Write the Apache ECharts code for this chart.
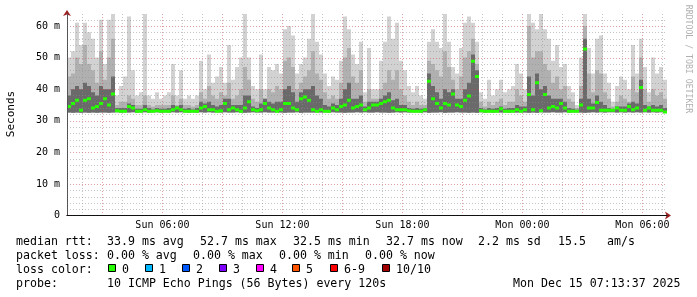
<!DOCTYPE html>
<html><head><meta charset="utf-8">
<script src="https://cdn.jsdelivr.net/npm/echarts@6/dist/echarts.min.js"></script>
<style>html,body{margin:0;padding:0;background:#fff}#c{width:697px;height:297px}</style>
</head><body><div id="c"></div>
<script>
// time axis: hours since Sun 00:00; graph spans Sun 01:13:37 .. Mon 07:13:37
const T0 = 1.2269;
const T1 = 31.2269;
const STEP = 0.2; // hours per smoke column (12 min)

// smoke: top of lightest band (max ping), medium band, dark band, floor (min ping)
const maxRtt = [
50,52,61,54,61,58,56,50,62,48,62,64,
38,41,44,63,46,38,39,64,38,37,39,37,
38,39,48,38,46,37,38,37,38,49,40,51,
42,44,47,42,54,43,47,50,64,50,41,40,
51,40,47,46,48,45,59,60,57,45,48,50,
56,64,55,51,45,41,44,43,49,63,59,51,
48,55,39,53,40,40,49,55,63,56,61,49,
46,41,39,41,38,37,55,59,55,53,64,55,
47,45,53,61,63,61,55,39,37,43,38,40,
43,39,40,41,48,45,40,64,61,59,64,59,
56,49,54,47,48,41,39,35,50,64,53,45,
56,57,45,42,36,41,44,43,40,54,45,56,
47,39,50,45,47,43];
const midRtt = [
44,45,50,48,54,48,46,42,52,43,50,56,
35,36,36,38,37,35,35,38,35,34.5,35,35,
35,35,38,35,37,35,35,34.5,35,39,37,41,
38,37,39,38,42,37,38,40,47,43,37,36,
40,37,40,39,41,40,49,50,47,40,42,44,
46,52,45,43,39,37,38,37,42,50,53,44,
42,46,36,40,37,37,40,42,46,43,46,40,
38,36,35,36,35,35,49,48,46,44,52,47,
43,40,44,50,52,56,48,36,34.5,36,35,36,
37,35,36,36,40,38,36,60,50,52,52,48,
46,42,44,40,41,37,36,34,41,60,45,39,
46,45,39,37,34.5,36,38,37,36,44,39,50,
40,36,40,38,39,37];
const darkRtt = [
38,40,41,40,42,41,39,38,41,40,40,44,
34,34,34,35.5,35,33.8,33.8,35,34,33.6,34,33.8,
33.8,34,35,34.5,35,33.8,34,33.6,34,36,35.5,36,
35,34.5,35,37,37,35,35,35,38,38,34.5,34,
35.5,37,36,35.5,36,36,40,41,39,36,39,40,
40,41,38,37,35,34.5,35.5,35,37,40,42,37,
37,38,34.5,36,36,36,37,38,39,36.5,37,35,
35,34,33.8,34,33.8,34,45,41,39,37,40,39,
40,37,37,40,42,51,46,34,33.6,34,33.8,34,
34.5,33.8,34,34,35,34.5,34.5,44,38,45,40,41,
38,37,37,37,36,34,33.8,33.5,37,56,37,35.5,
38,36,35,34,33.6,34.5,34.5,34.5,35.5,36,35.5,43,
35,34.5,35,34.5,35,34];
const minRtt = [
32.6,32.5,32.6,32.5,32.6,32.5,32.6,32.5,32.6,32.6,32.5,32.6,
32.7,32.6,32.7,32.6,32.7,32.6,32.7,32.7,32.6,32.7,32.7,32.6,
32.7,32.6,32.7,32.6,32.7,32.7,32.6,32.7,32.6,32.7,32.6,32.7,
32.6,32.7,32.6,32.7,32.6,32.6,32.7,32.6,32.5,32.6,32.7,32.6,
32.6,32.7,32.6,32.6,32.7,32.6,32.5,32.6,32.6,32.7,32.5,32.6,
32.6,32.6,32.7,32.6,32.7,32.6,32.7,32.6,32.6,32.5,32.6,32.6,
32.7,32.6,32.7,32.6,32.6,32.7,32.6,32.6,32.5,32.6,32.7,32.6,
32.7,32.6,32.7,32.7,32.6,32.7,32.5,32.6,32.6,32.7,32.5,32.6,
32.6,32.7,32.6,32.6,32.5,32.6,32.5,32.7,32.6,32.7,32.6,32.7,
32.6,32.7,32.6,32.7,32.6,32.7,32.6,32.5,32.6,32.5,32.7,32.6,
32.6,32.7,32.6,32.6,32.7,32.6,32.7,32.7,32.6,32.5,32.6,32.7,
32.6,32.7,32.6,32.7,32.7,32.6,32.7,32.6,32.7,32.6,32.7,32.6,
32.7,32.6,32.7,32.6,32.7,32.6];
// median rtt (ms), 0 % loss throughout
const medRtt = [
34.5,35.5,36.5,33.3,36.5,37,34,34.5,35.5,37,35,38.5,
33.2,33,33,34.5,34,33,33,33.5,33,33,33.2,33,
33,33,33.5,34,33.5,33,33,33,33,34,34.5,33.5,
33.5,33,33.2,35.5,33.5,34,33.5,33,34,36,33.5,33.2,
33.5,35.5,34,33.5,33,33.5,35.5,35.5,34,33.5,37,37.5,
36.5,33.5,33,33.5,33,33,34,33.5,34.5,35,36.5,34,
34.5,35,33.5,34,35,35,35.5,36,36.5,34,33.5,33.5,
33.5,33.2,33,33,33,33.5,42.5,37,35.5,34,35.5,35,
38.5,35,34.5,36.5,37.8,48.8,44,33.2,33,33,33,33,
33.8,33,33,33,33.5,33,33.5,38.3,33.5,42,33.2,38.3,
34,34.5,34,35.5,34,33,33,33,35,52.7,34,34,
35.8,33.3,33.3,33.3,33.3,34,33.3,33.3,34.5,33.5,34,40.5,
33.3,34,33.3,33.3,33.3,32.8];

// grid / tick values
const hourMinor = [2,4,5,7,8,10,11,13,14,16,17,19,20,22,23,25,26,28,29,31];
const hourMajor = [3,6,9,12,15,18,21,24,27,30];
const labelHours = [6,12,18,24,30];
const msMinor = [2,4,6,8,12,14,16,18,22,24,26,28,32,34,36,38,42,44,46,48,52,54,56,58,62];
const msMajor = [10,20,30,40,50,60];

// legend texts
const statsRtt = [['median rtt:',16],['33.9 ms avg',107],['52.7 ms max',200],['32.5 ms min',293],['32.7 ms now',386],['2.2 ms sd',478],['15.5',558],['am/s',607]];
const statsLoss = [['packet loss:',16],['0.00 % avg',107],['0.00 % max',193],['0.00 % min',279],['0.00 % now',365]];
const lossLabels = ['0','1','2','3','4','5','6-9','10/10'];
const lossColors = ['#26ff00','#00b8ff','#0059ff','#7e00ff','#ff00ff','#ff5500','#ff0000','#a10000'];
const lossX = [108,145,182,219,256,292,330,382];
const probeText = [['probe:',16],['10 ICMP Echo Pings (56 Bytes) every 120s',107],['Mon Dec 15 07:13:37 2025',513]];

const MONO = '"DejaVu Sans Mono", "Liberation Mono", monospace';
const FONT = '11.6px ' + MONO;

const smokeData = maxRtt.map((v, i) => [T0 + i * STEP, T0 + (i + 1) * STEP, minRtt[i], v, midRtt[i], darkRtt[i]]);
const medData = medRtt.map((v, i) => [T0 + i * STEP, T0 + (i + 1) * STEP, v]);

function renderSmoke(params, api) {
  const t0 = api.value(0), t1 = api.value(1);
  const lo = api.value(2);
  const band = (top, color) => {
    const a = api.coord([t0, top]);
    const b = api.coord([t1, lo]);
    return {type: 'rect', shape: {x: a[0], y: a[1], width: b[0] - a[0], height: b[1] - a[1]}, style: {fill: color}};
  };
  return {type: 'group', children: [band(api.value(3), '#d2d2d2'), band(api.value(4), '#b0b0b0'), band(api.value(5), '#6a6a6a')]};
}
// median drawn as a thin band centred on the value (SmokePing style)
function renderMedian(params, api) {
  const a = api.coord([api.value(0), api.value(2)]);
  const b = api.coord([api.value(1), api.value(2)]);
  return {type: 'rect', shape: {x: a[0], y: a[1] - 1.5, width: b[0] - a[0], height: 3}, style: {fill: '#26ff00'}};
}
function vGrid(color) {
  return function (params, api) {
    const cs = params.coordSys;
    const p = api.coord([api.value(0), 0]);
    const x = Math.round(p[0]) + 0.5;
    return {type: 'line', shape: {x1: x, y1: cs.y, x2: x, y2: cs.y + cs.height}, style: {stroke: color, lineWidth: 1, lineDash: [1, 2]}};
  };
}
function hGrid(color) {
  return function (params, api) {
    const cs = params.coordSys;
    const p = api.coord([T0, api.value(1)]);
    const y = Math.round(p[1]) + 0.5;
    return {type: 'line', shape: {x1: cs.x, y1: y, x2: cs.x + cs.width, y2: y}, style: {stroke: color, lineWidth: 1, lineDash: [1, 2]}};
  };
}
const GRAY = 'rgba(140,140,140,0.5)';
const RED = 'rgba(200,70,70,0.5)';

const graphics = [];
function addText(t, x, y) {
  graphics.push({type: 'text', x: x, y: y, style: {text: t, font: FONT, fill: '#000', align: 'left', verticalAlign: 'middle', textAlign: 'left', textVerticalAlign: 'middle'}});
}
statsRtt.forEach(([t, x]) => addText(t, x, 241.5));
statsLoss.forEach(([t, x]) => addText(t, x, 255.5));
addText('loss color:', 16, 269.5);
lossLabels.forEach((t, i) => {
  graphics.push({type: 'rect', shape: {x: lossX[i] + 0.5, y: 264.5, width: 7, height: 7}, style: {fill: lossColors[i], stroke: '#000', lineWidth: 1}});
  addText(t, lossX[i] + 14, 269.5);
});
probeText.forEach(([t, x]) => addText(t, x, 283.5));
graphics.push({type: 'text', x: 11, y: 114, rotation: Math.PI / 2, style: {text: 'Seconds', font: '11px ' + MONO, fill: '#000', align: 'center', verticalAlign: 'middle', textAlign: 'center', textVerticalAlign: 'middle'}});
graphics.push({type: 'text', x: 688, y: 59, rotation: -Math.PI / 2, style: {text: 'RRDTOOL / TOBI OETIKER', font: '8.2px ' + MONO, fill: '#b0b0b0', align: 'center', verticalAlign: 'middle', textAlign: 'center', textVerticalAlign: 'middle'}});

const chart = echarts.init(document.getElementById('c'), null, {renderer: 'canvas'});
chart.setOption({
  animation: false,
  backgroundColor: '#fff',
  grid: {left: 67, right: 30, top: 14, bottom: 81.5, containLabel: false},
  xAxis: [{
    type: 'value', min: T0, max: T1, z: 5,
    axisLine: {show: true, lineStyle: {color: '#111', width: 1}},
    axisTick: {show: false}, splitLine: {show: false},
    axisLabel: {customValues: labelHours, margin: 5, color: '#000', fontFamily: MONO, fontSize: 10,
      formatter: v => (v < 24 ? 'Sun ' : 'Mon ') + String(v % 24).padStart(2, '0') + ':00'}
  }, {
    type: 'value', min: T0, max: T1, position: 'bottom', offset: 0, z: 1,
    axisLine: {show: true, symbol: ['none', 'arrow'], symbolSize: [6, 6], symbolOffset: [0, 4], lineStyle: {color: '#9b2020'}},
    axisTick: {show: false}, splitLine: {show: false}, axisLabel: {show: false}
  }],
  yAxis: [{
    type: 'value', min: 0, max: 63.8, interval: 10, z: 5,
    axisLine: {show: true, lineStyle: {color: '#555'}},
    axisTick: {show: false}, splitLine: {show: false},
    axisLabel: {showMaxLabel: false, margin: 7, color: '#000', fontFamily: MONO, fontSize: 10,
      formatter: v => v === 0 ? '0' : v + ' m'}
  }, {
    type: 'value', min: 0, max: 63.8, position: 'left', offset: 0, z: 1,
    axisLine: {show: true, symbol: ['none', 'arrow'], symbolSize: [6, 6], symbolOffset: [0, 4], lineStyle: {color: '#9b2020'}},
    axisTick: {show: false}, splitLine: {show: false}, axisLabel: {show: false}
  }],
  graphic: graphics,
  series: [
    {type: 'custom', name: 'smoke', renderItem: renderSmoke, data: smokeData, clip: true, z: 1,
      encode: {x: [0, 1], y: [2, 3, 4, 5]}, silent: true},
    {type: 'custom', renderItem: vGrid(GRAY), data: hourMinor.map(h => [h, 0]), z: 2, silent: true, encode: {x: 0, y: 1}},
    {type: 'custom', renderItem: vGrid(RED), data: hourMajor.map(h => [h, 0]), z: 2, silent: true, encode: {x: 0, y: 1}},
    {type: 'custom', renderItem: hGrid(GRAY), data: msMinor.map(v => [T0, v]), z: 2, silent: true, encode: {x: 0, y: 1}},
    {type: 'custom', renderItem: hGrid(RED), data: msMajor.map(v => [T0, v]), z: 2, silent: true, encode: {x: 0, y: 1}},
    {type: 'custom', name: 'median rtt', renderItem: renderMedian, data: medData, clip: true, z: 4,
      encode: {x: [0, 1], y: 2}, silent: true}
  ]
});
</script></body></html>
